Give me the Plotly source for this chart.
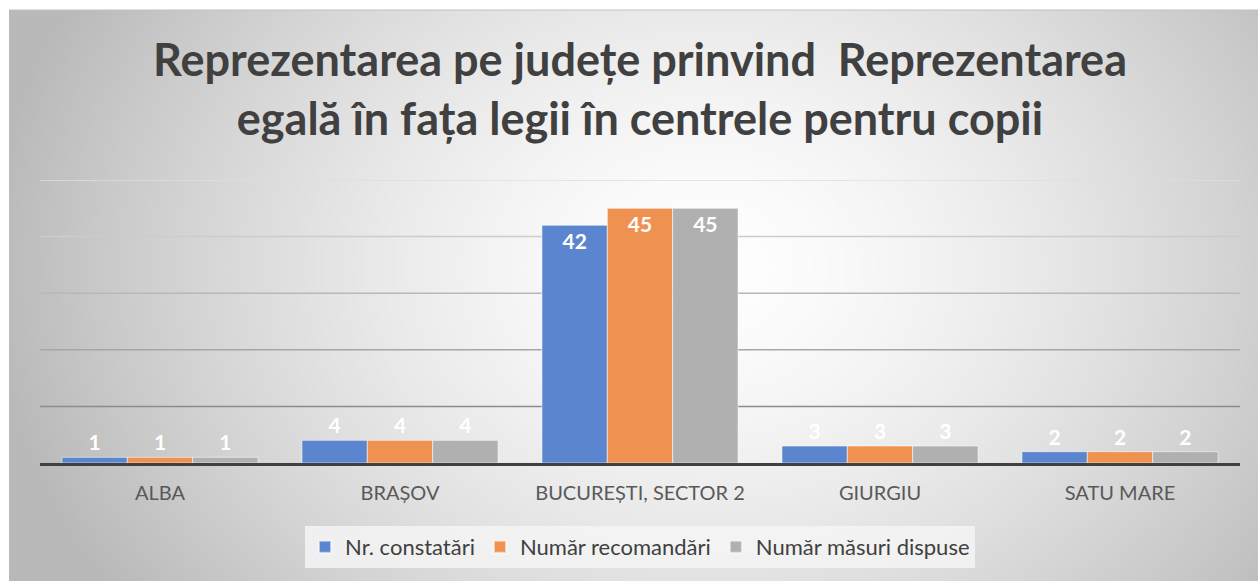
import base64, struct, zlib
import numpy as np
import plotly.graph_objects as go

# ---------------- data ----------------
categories = ["ALBA", "BRAȘOV", "BUCUREȘTI, SECTOR 2", "GIURGIU", "SATU MARE"]
nr_constatari = [1, 4, 42, 3, 2]
numar_recomandari = [1, 4, 45, 3, 2]
numar_masuri = [1, 4, 45, 3, 2]
series_names = ["Nr. constatări", "Număr recomandări", "Număr măsuri dispuse"]
grid_vals = [10, 20, 30, 40, 50]
title_text = "Reprezentarea pe județe prinvind  Reprezentarea<br>egală în fața legii în centrele pentru copii"

# ---------------- geometry / style ----------------
W, H = 1258, 581
L, R, T, B = 40, 18, 180, 118
FONT = "Lato"
colors = ["#5b86cf", "#ef9150", "#b0b0b0"]

# radial gradient background (white centre -> grey edges)
gw, gh = 315, 146
yy, xx = np.mgrid[0:gh, 0:gw]
px = xx * (W / gw)
py = yy * (H / gh)
cx, cy = 700, 260
r = np.sqrt(((px - cx) / 700.0) ** 2 + ((py - cy) / 560.0) ** 2)
val = 255 - 66 * np.clip(r, 0, 1.3) ** 1.5
img = np.clip(val, 185, 255).astype(np.uint8)

def png_gray(a):
    h, w = a.shape
    raw = b"".join(b"\x00" + a[i].tobytes() for i in range(h))
    def chunk(t, d):
        c = struct.pack(">I", len(d)) + t + d
        return c + struct.pack(">I", zlib.crc32(t + d) & 0xffffffff)
    return (b"\x89PNG\r\n\x1a\n" + chunk(b"IHDR", struct.pack(">IIBBBBB", w, h, 8, 0, 0, 0, 0))
            + chunk(b"IDAT", zlib.compress(raw, 9)) + chunk(b"IEND", b""))

src = "data:image/png;base64," + base64.b64encode(png_gray(img)).decode()

pw, ph = W - L - R, H - T - B
ox, oy = 9, 10  # outer white margin of chart area
img_x = (ox - L) / pw
img_y = (H - B - oy) / ph
img_sx = (W - ox) / pw
img_sy = (H - oy) / ph

fig = go.Figure()
for name, vals, col in zip(series_names, [nr_constatari, numar_recomandari, numar_masuri], colors):
    fig.add_trace(go.Bar(
        x=categories, y=vals, name=name,
        marker=dict(color=col, line=dict(color="rgba(255,255,255,0.55)", width=1)),
        text=vals, texttemplate="<b>%{text}</b>",
        textposition=["inside" if v > 10 else "outside" for v in vals],
        insidetextanchor="end",
        textfont=dict(family=FONT, size=21, color="white"),
        outsidetextfont=dict(family=FONT, size=21, color="white"),
        cliponaxis=False, hoverinfo="skip",
    ))

# gridlines with a vertical shade gradient (darker at bottom, lighter at top)
grid_cols = ["#8c8c8c", "#a6a6a6", "#b8b8b8", "#cccccc", "#dedede"]
shapes = []
for gv, gc in zip(grid_vals, grid_cols):
    shapes.append(dict(type="line", xref="paper", yref="y", x0=0, x1=1, y0=gv, y1=gv,
                       line=dict(color=gc, width=1.5), layer="below"))
shapes.append(dict(type="line", xref="paper", yref="paper", x0=img_x, x1=img_x + img_sx,
                   y0=img_y, y1=img_y, line=dict(color="#c0c0c0", width=1), layer="below"))

fig.update_layout(
    width=W, height=H,
    margin=dict(l=L, r=R, t=T, b=B),
    paper_bgcolor="white", plot_bgcolor="rgba(0,0,0,0)",
    images=[dict(source=src, xref="paper", yref="paper", x=img_x, y=img_y,
                 sizex=img_sx, sizey=img_sy, xanchor="left", yanchor="top",
                 sizing="stretch", layer="below")],
    shapes=shapes,
    title=dict(text=title_text, x=0.5, xref="paper", xanchor="center",
               y=1 - 76 / H, yref="container", yanchor="top",
               font=dict(family=FONT, size=45, color="#404040", weight="bold")),
    barmode="group", bargap=0.183, bargroupgap=0,
    showlegend=True,
    legend=dict(orientation="h", x=0.5, xanchor="center", y=(-(547 - (H - B)) / ph), yanchor="middle",
                bgcolor="rgba(245,245,245,0.85)", font=dict(family=FONT, size=22, color="#404040"),
                itemclick=False, itemdoubleclick=False, traceorder="normal",
                itemsizing="constant"),
    font=dict(family=FONT),
    xaxis=dict(showgrid=False, showline=True, linecolor="#404040", linewidth=3,
               tickfont=dict(family=FONT, size=20, color="#595959"), ticks="",
               ticklabelstandoff=10, fixedrange=True),
    yaxis=dict(range=[0, 50], showgrid=False, showticklabels=False, zeroline=False,
               tickvals=grid_vals, fixedrange=True),
)

fig.write_html("out.html", config={"displayModeBar": False},
               post_script="document.body.style.margin='0';")
